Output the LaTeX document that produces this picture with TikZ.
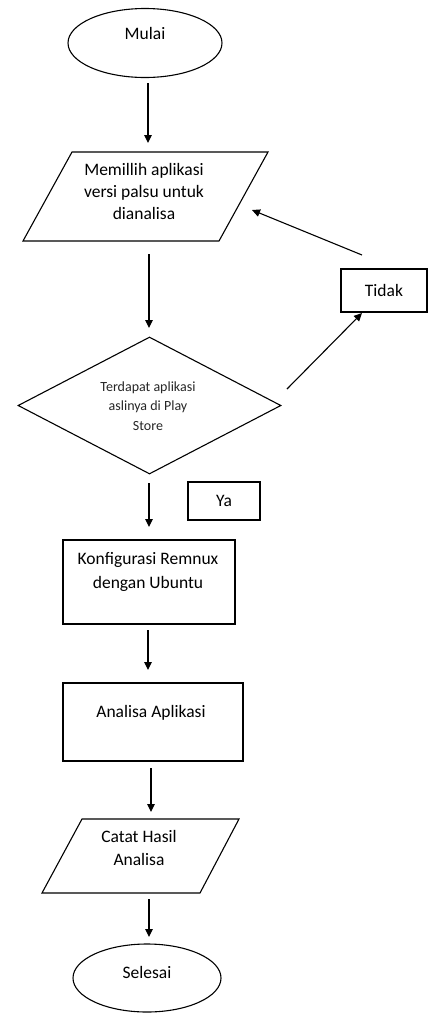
\documentclass[tikz,border=0pt]{standalone}
\usepackage{fontspec}
\setmainfont{Carlito}
\usetikzlibrary{shapes.geometric,arrows.meta}
\begin{document}
\begin{tikzpicture}[x=1pt,y=-1pt,
  line width=1.1pt,
  flow/.style={-{Triangle[length=8pt,width=7.5pt]}},
  shp/.style={draw, inner sep=0pt},
  txt/.style={font=\fontsize{17.5}{22}\selectfont, align=center, inner sep=0pt},
  smalltxt/.style={font=\fontsize{14}{19.5}\selectfont, align=center, inner sep=0pt, text=black!85}]
\useasboundingbox (0,0) rectangle (429,1013);
% shapes
\node[shp, ellipse, minimum width=154pt, minimum height=69pt] (mulai) at (145,43) {};
\node[txt] (tmulai) at (145,33) {Mulai};
\draw (72,152) -- (268,152) -- (219,241) -- (23,241) -- cycle;
\node[txt] (tpilih) at (144,191) {Memillih aplikasi\\versi palsu untuk\\dianalisa};
\node[shp, diamond, minimum width=263pt, minimum height=137pt] (cek) at (149.5,405.5) {};
\node[smalltxt] (tcek) at (148,406) {Terdapat aplikasi\\aslinya di Play\\Store};
\node[shp, rectangle, minimum width=86pt, minimum height=43pt, txt] (tidak) at (384,290.5) {Tidak};
\node[shp, rectangle, minimum width=72pt, minimum height=38pt, txt] (ya) at (224,501) {Ya};
\node[shp, rectangle, minimum width=172pt, minimum height=84pt] (konf) at (149,582) {};
\node[txt, font=\fontsize{17.5}{24}\selectfont] (tkonf) at (148,572) {Konfigurasi Remnux\\dengan Ubuntu};
\node[shp, rectangle, minimum width=180pt, minimum height=78pt] (anal) at (153,722) {};
\node[txt] (tanal) at (151,713) {Analisa Aplikasi};
\draw (82,819) -- (239,819) -- (200,893) -- (42,893) -- cycle;
\node[txt, font=\fontsize{17.5}{23.5}\selectfont] (tcatat) at (139,848) {Catat Hasil\\Analisa};
\node[shp, ellipse, minimum width=148pt, minimum height=68pt] (selesai) at (147,978) {};
\node[txt] (tselesai) at (147,972) {Selesai};
% connector ends
\coordinate (a1s) at (148,83);  \coordinate (a1e) at (148,143);
\coordinate (a2s) at (149,254); \coordinate (a2e) at (149,328);
\coordinate (a3s) at (149,483); \coordinate (a3e) at (149,527);
\coordinate (a4s) at (148,630); \coordinate (a4e) at (148,670);
\coordinate (a5s) at (151,768); \coordinate (a5e) at (151,812);
\coordinate (a6s) at (149,899); \coordinate (a6e) at (149,937);
\coordinate (dts) at (287,389); \coordinate (dte) at (362,313);
\coordinate (tps) at (362,255); \coordinate (tpe) at (252,210);
\draw[flow] (a1s) -- (a1e);
\draw[flow] (a2s) -- (a2e);
\draw[flow] (a3s) -- (a3e);
\draw[flow] (a4s) -- (a4e);
\draw[flow] (a5s) -- (a5e);
\draw[flow] (a6s) -- (a6e);
\draw[flow] (dts) -- (dte);
\draw[flow] (tps) -- (tpe);
\end{tikzpicture}
\end{document}
